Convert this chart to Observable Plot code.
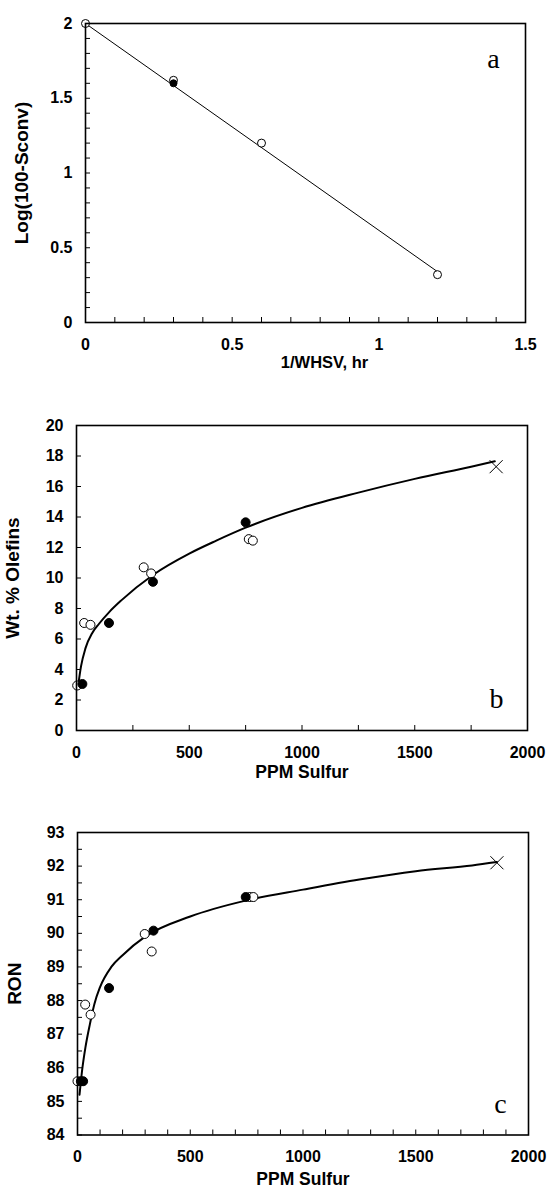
<!DOCTYPE html>
<html><head><meta charset="utf-8">
<script src="https://cdn.jsdelivr.net/npm/d3@7"></script>
<script src="https://cdn.jsdelivr.net/npm/@observablehq/plot@0.6"></script>
<style>body{margin:0;background:#fff;} #chart svg{display:block;}</style>
</head><body><div id="chart"></div>
<script>
// ---------- Panel a ----------
const aOpenX = [0, 0.3, 0.6, 1.2];
const aOpenY = [2.0, 1.62, 1.20, 0.32];
const aFilledX = [0.3];
const aFilledY = [1.60];
const aFitX = [0, 1.2];
const aFitY = [2.0, 0.34];
const aXTicks = [0, 0.5, 1, 1.5];
const aYTicks = [0, 0.5, 1, 1.5, 2];

// ---------- Panel b ----------
const bOpenX = [3, 34, 62, 298, 331, 764, 782];
const bOpenY = [2.95, 7.05, 6.93, 10.7, 10.3, 12.55, 12.45];
const bFilledX = [26, 144, 339, 750];
const bFilledY = [3.05, 7.05, 9.75, 13.65];
const bCrossX = [1861];
const bCrossY = [17.3];
const bFitX = [8, 20, 40, 70, 100, 144, 200, 339, 500, 620, 750, 1000, 1250, 1500, 1750, 1855];
const bFitY = [3.0, 4.2, 5.4, 6.4, 7.0, 7.75, 8.55, 10.2, 11.6, 12.45, 13.3, 14.6, 15.6, 16.5, 17.3, 17.65];
const bXTicks = [0, 500, 1000, 1500, 2000];
const bYTicks = [0, 2, 4, 6, 8, 10, 12, 14, 16, 18, 20];

// ---------- Panel c ----------
const cOpenX = [0, 34, 58, 298, 329, 764, 780];
const cOpenY = [85.6, 87.88, 87.58, 89.98, 89.46, 91.08, 91.08];
const cFilledX = [15, 25, 140, 337, 746];
const cFilledY = [85.6, 85.6, 88.37, 90.08, 91.08];
const cCrossX = [1860];
const cCrossY = [92.1];
const cFitX = [9, 20, 35, 55, 75, 100, 150, 200, 300, 500, 750, 1000, 1250, 1500, 1750, 1860];
const cFitY = [85.2, 85.9, 86.6, 87.3, 87.9, 88.4, 89.0, 89.35, 89.9, 90.5, 90.98, 91.3, 91.6, 91.85, 92.02, 92.12];
const cXTicks = [0, 500, 1000, 1500, 2000];
const cYTicks = [84, 85, 86, 87, 88, 89, 90, 91, 92, 93];

const W = 547;
const zip = (xs, ys) => xs.map((x, i) => ({x, y: ys[i]}));
const stepRange = (a, b, s) => d3.range(Math.round((b - a) / s) + 1).map(i => +(a + i * s).toFixed(6));

function panel(cfg) {
  const [mt, mr, mb, ml] = cfg.margin;
  const pw = W - ml - mr, ph = cfg.height - mt - mb;
  const fmt = d => `${d}`;
  return Plot.plot({
    width: W, height: cfg.height,
    marginTop: mt, marginRight: mr, marginBottom: mb, marginLeft: ml,
    x: {domain: cfg.xDomain}, y: {domain: cfg.yDomain},
    style: {fontFamily: "'Liberation Sans', Arial, sans-serif", fontSize: "16px", fontWeight: "bold", color: "black", background: "white", overflow: "visible"},
    marks: [
      Plot.axisX({ticks: cfg.xTicks, tickSize: 0, tickPadding: 16, tickFormat: fmt, label: null}),
      Plot.axisY({ticks: cfg.yTicks, tickSize: 0, tickPadding: 13, tickFormat: fmt, label: null}),
      Plot.tickX(cfg.xMinor, {x: d => d, insetTop: ph - 5, strokeWidth: 1}),
      Plot.tickY(cfg.yMinor, {y: d => d, insetRight: pw - 5, strokeWidth: 1}),
      ...cfg.marks,
      Plot.frame({strokeWidth: 1.6}),
      Plot.text([cfg.xTitle], {text: d => d, frameAnchor: "bottom", dx: cfg.xTitleDx, dy: cfg.xTitleDy, fontSize: cfg.xTitleSize, fontWeight: "bold", lineAnchor: "middle", textAnchor: "middle"}),
      Plot.text([cfg.yTitle], {text: d => d, frameAnchor: "left", rotate: -90, dx: cfg.yTitleDx, fontSize: 19, fontWeight: "bold", lineAnchor: "middle", textAnchor: "middle"}),
      Plot.text([cfg.letter], {text: d => d, frameAnchor: cfg.letterAnchor, dx: cfg.letterDx, dy: cfg.letterDy, fontFamily: "'Liberation Serif', 'Times New Roman', serif", fontSize: 28, fontWeight: "normal", lineAnchor: "middle", textAnchor: "middle"})
    ]
  });
}

const openStyle = r => ({x: "x", y: "y", r, fill: "white", stroke: "black", strokeWidth: 1});
const filledStyle = r => ({x: "x", y: "y", r, fill: "black", stroke: "black", strokeWidth: 1});

const chart = document.getElementById("chart");

chart.appendChild(panel({
  height: 380, margin: [23, 22, 58, 85],
  xDomain: [0, 1.5], yDomain: [0, 2],
  xTicks: aXTicks, yTicks: aYTicks,
  xMinor: stepRange(0, 1.5, 0.1), yMinor: stepRange(0, 2, 0.1),
  xTitle: "1/WHSV, hr", xTitleDx: 19, xTitleDy: 40, xTitleSize: 16.5,
  yTitle: "Log(100-Sconv)", yTitleDx: -64,
  letter: "a", letterAnchor: "top-right", letterDx: -32, letterDy: 36,
  marks: [
    Plot.line(zip(aFitX, aFitY), {x: "x", y: "y", stroke: "black", strokeWidth: 1}),
    Plot.dot(zip(aOpenX, aOpenY), openStyle(4)),
    Plot.dot(zip(aFilledX, aFilledY), filledStyle(3.5))
  ]
}));

chart.appendChild(panel({
  height: 420, margin: [45, 20, 70, 76],
  xDomain: [0, 2000], yDomain: [0, 20],
  xTicks: bXTicks, yTicks: bYTicks,
  xMinor: stepRange(0, 2000, 250), yMinor: stepRange(0, 20, 2),
  xTitle: "PPM Sulfur", xTitleDx: 0, xTitleDy: 42, xTitleSize: 17.5,
  yTitle: "Wt. % Olefins", yTitleDx: -64,
  letter: "b", letterAnchor: "bottom-right", letterDx: -31, letterDy: -31,
  marks: [
    Plot.line(zip(bFitX, bFitY), {x: "x", y: "y", stroke: "black", strokeWidth: 2, curve: "monotone-x"}),
    Plot.dot(zip(bOpenX, bOpenY), openStyle(4.5)),
    Plot.dot(zip(bFilledX, bFilledY), filledStyle(4.5)),
    Plot.dot(zip(bCrossX, bCrossY), {x: "x", y: "y", symbol: "times", r: 6, stroke: "black", strokeWidth: 1, fill: "none"})
  ]
}));

chart.appendChild(panel({
  height: 389, margin: [32, 19, 54.5, 77],
  xDomain: [0, 2000], yDomain: [84, 93],
  xTicks: cXTicks, yTicks: cYTicks,
  xMinor: stepRange(0, 2000, 100), yMinor: stepRange(84, 93, 0.5),
  xTitle: "PPM Sulfur", xTitleDx: 0, xTitleDy: 44, xTitleSize: 17.5,
  yTitle: "RON", yTitleDx: -63,
  letter: "c", letterAnchor: "bottom-right", letterDx: -28, letterDy: -31,
  marks: [
    Plot.line(zip(cFitX, cFitY), {x: "x", y: "y", stroke: "black", strokeWidth: 2, curve: "monotone-x"}),
    Plot.dot(zip(cOpenX, cOpenY), openStyle(4.5)),
    Plot.dot(zip(cFilledX, cFilledY), filledStyle(4.5)),
    Plot.dot(zip(cCrossX, cCrossY), {x: "x", y: "y", symbol: "times", r: 6, stroke: "black", strokeWidth: 1, fill: "none"})
  ]
}));
</script>
</body></html>
